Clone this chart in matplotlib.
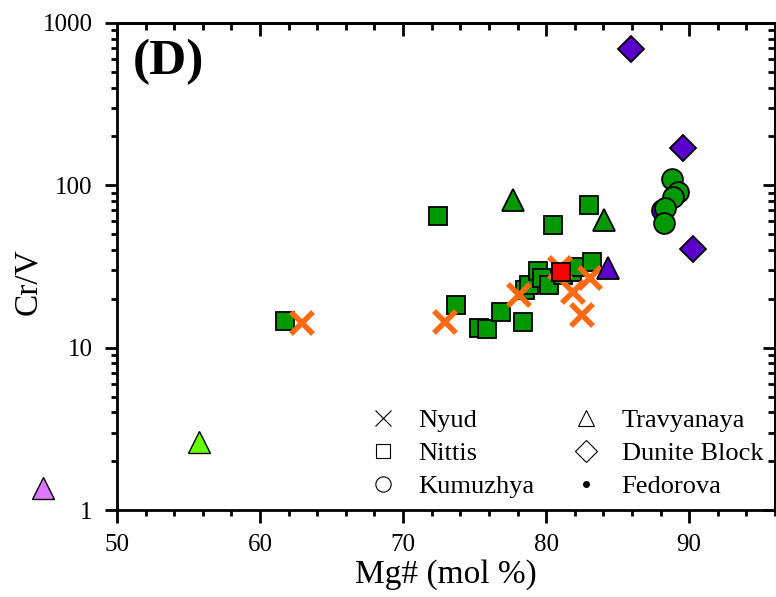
import matplotlib
matplotlib.use("Agg")
import matplotlib.pyplot as plt
from matplotlib.lines import Line2D
from matplotlib.ticker import MultipleLocator, LogLocator, NullFormatter, FuncFormatter

plt.rcParams['font.family'] = ['Liberation Serif', 'DejaVu Serif']

# Nyud (orange crosses)
nyud_mg = [62.9, 72.9, 78.1, 81.0, 81.9, 83.1, 82.5]
nyud_crv = [14.2, 14.3, 21.1, 31.0, 22.0, 26.9, 15.9]

# Nittis (green squares)
nittis_mg = [61.75, 72.45, 73.7, 75.3, 75.9, 76.85, 78.4, 78.5, 78.8, 79.4,
             79.7, 80.2, 80.5, 81.2, 81.8, 82.2, 83.2, 83.0]
nittis_crv = [14.6, 64.8, 18.3, 13.2, 13.0, 16.6, 14.4, 22.7, 24.3, 29.7,
              26.9, 24.3, 57.0, 28.0, 29.3, 31.4, 33.7, 75.7]

# red square
red_mg = [81.05]
red_crv = [29.3]

# Kumuzhya (circles)
kum_purple_mg = [88.1]
kum_purple_crv = [70.5]
kum_mg = [88.8, 89.2, 88.9, 88.3, 88.25]
kum_crv = [109.5, 91.0, 84.9, 72.6, 58.7]

# Travyanaya (triangles)
trav_green_mg = [77.7, 84.05]
trav_green_crv = [81.3, 61.2]
trav_purple_mg = [84.3]
trav_purple_crv = [31.0]
trav_lime_mg = [55.7]
trav_lime_crv = [2.62]
trav_pink_mg = [44.8]
trav_pink_crv = [1.37]

# Dunite Block (diamonds)
dun_mg = [85.9, 89.6, 90.3]
dun_crv = [692, 170, 40.6]

green = '#009900'
purple = '#5a00cc'
orange = '#ff6a13'

fig = plt.figure(figsize=(7.76, 5.97), dpi=100)
ax = fig.add_axes([0.1508, 0.1457, 0.8479, 0.8158])

ax.set_yscale('log')
ax.set_xlim(50, 96)
ax.set_ylim(1, 1000)

mk = dict(linestyle='none', markeredgecolor='black', markeredgewidth=1.3)

ax.plot(nittis_mg, nittis_crv, marker='s', markersize=13, markerfacecolor=green, **mk)
ax.plot(nyud_mg, nyud_crv, marker='x', markersize=16, markeredgewidth=4,
        color=orange, linestyle='none')
ax.plot(red_mg, red_crv, marker='s', markersize=13, markerfacecolor='#ff0000', **mk)
ax.plot(kum_purple_mg, kum_purple_crv, marker='o', markersize=15, markerfacecolor=purple, **mk)
ax.plot(kum_mg, kum_crv, marker='o', markersize=15, markerfacecolor=green, **mk)
ax.plot(trav_green_mg, trav_green_crv, marker='^', markersize=16, markerfacecolor=green, **mk)
ax.plot(trav_purple_mg, trav_purple_crv, marker='^', markersize=16, markerfacecolor=purple, **mk)
ax.plot(trav_lime_mg, trav_lime_crv, marker='^', markersize=16, markerfacecolor='#66ff00',
        linestyle='none', markeredgecolor='black', markeredgewidth=1.0)
ax.plot(trav_pink_mg, trav_pink_crv, marker='^', markersize=16, markerfacecolor='#dd77ff',
        linestyle='none', markeredgecolor='black', markeredgewidth=1.0, clip_on=False)
ax.plot(dun_mg, dun_crv, marker='D', markersize=13, markerfacecolor=purple, **mk)

# frame: outward ticks bottom/left, inward ticks top/right
for sp in ax.spines.values():
    sp.set_linewidth(2)
ax.xaxis.set_major_locator(MultipleLocator(10))
ax.xaxis.set_minor_locator(MultipleLocator(2))
ax.yaxis.set_major_locator(LogLocator(base=10))
ax.yaxis.set_minor_locator(LogLocator(base=10, subs=range(2, 10)))
ax.yaxis.set_minor_formatter(NullFormatter())
ax.yaxis.set_major_formatter(FuncFormatter(lambda v, p: f'{v:g}'))
ax.tick_params(which='major', direction='out', length=9, width=2, labelsize=18, pad=8.5)
ax.tick_params(which='minor', direction='out', length=4.5, width=2)

top = ax.secondary_xaxis('top')
top.xaxis.set_major_locator(MultipleLocator(10))
top.xaxis.set_minor_locator(MultipleLocator(2))
top.tick_params(which='major', direction='in', length=9, width=2, labeltop=False)
top.tick_params(which='minor', direction='in', length=5, width=2)
top.spines['top'].set_linewidth(2)

right = ax.secondary_yaxis('right')
right.yaxis.set_major_locator(LogLocator(base=10))
right.yaxis.set_minor_locator(LogLocator(base=10, subs=range(2, 10)))
right.tick_params(which='major', direction='in', length=9, width=2, labelright=False)
right.tick_params(which='minor', direction='in', length=5, width=2, labelright=False)
right.spines['right'].set_linewidth(2)

ax.set_xlabel('Mg# (mol %)', fontsize=24)
ax.set_ylabel('Cr/V', fontsize=24)
ax.xaxis.set_label_coords(0.5, -0.102)
ax.yaxis.set_label_coords(-0.112, 0.468)

ax.text(0.024, 0.967, '(D)', transform=ax.transAxes, fontsize=37,
        fontweight='bold', va='top', ha='left')

handles = [
    Line2D([], [], marker='x', color='black', linestyle='none', markersize=11, markeredgewidth=0.8),
    Line2D([], [], marker='s', color='black', markerfacecolor='white', linestyle='none', markersize=10, markeredgewidth=0.8),
    Line2D([], [], marker='o', color='black', markerfacecolor='white', linestyle='none', markersize=11, markeredgewidth=0.8),
    Line2D([], [], marker='^', color='black', markerfacecolor='white', linestyle='none', markersize=12, markeredgewidth=0.8),
    Line2D([], [], marker='D', color='black', markerfacecolor='white', linestyle='none', markersize=11, markeredgewidth=0.8),
    Line2D([], [], marker='o', color='black', linestyle='none', markersize=4),
]
labels = ['Nyud', 'Nittis', 'Kumuzhya', 'Travyanaya', 'Dunite Block', 'Fedorova']
ax.legend(handles, labels, ncol=2, frameon=False, fontsize=19,
          loc='lower right', bbox_to_anchor=(1.018, -0.024),
          handletextpad=0.6, columnspacing=1.2, labelspacing=0.36, handlelength=1.5)

fig.savefig('out.png', dpi=100)
